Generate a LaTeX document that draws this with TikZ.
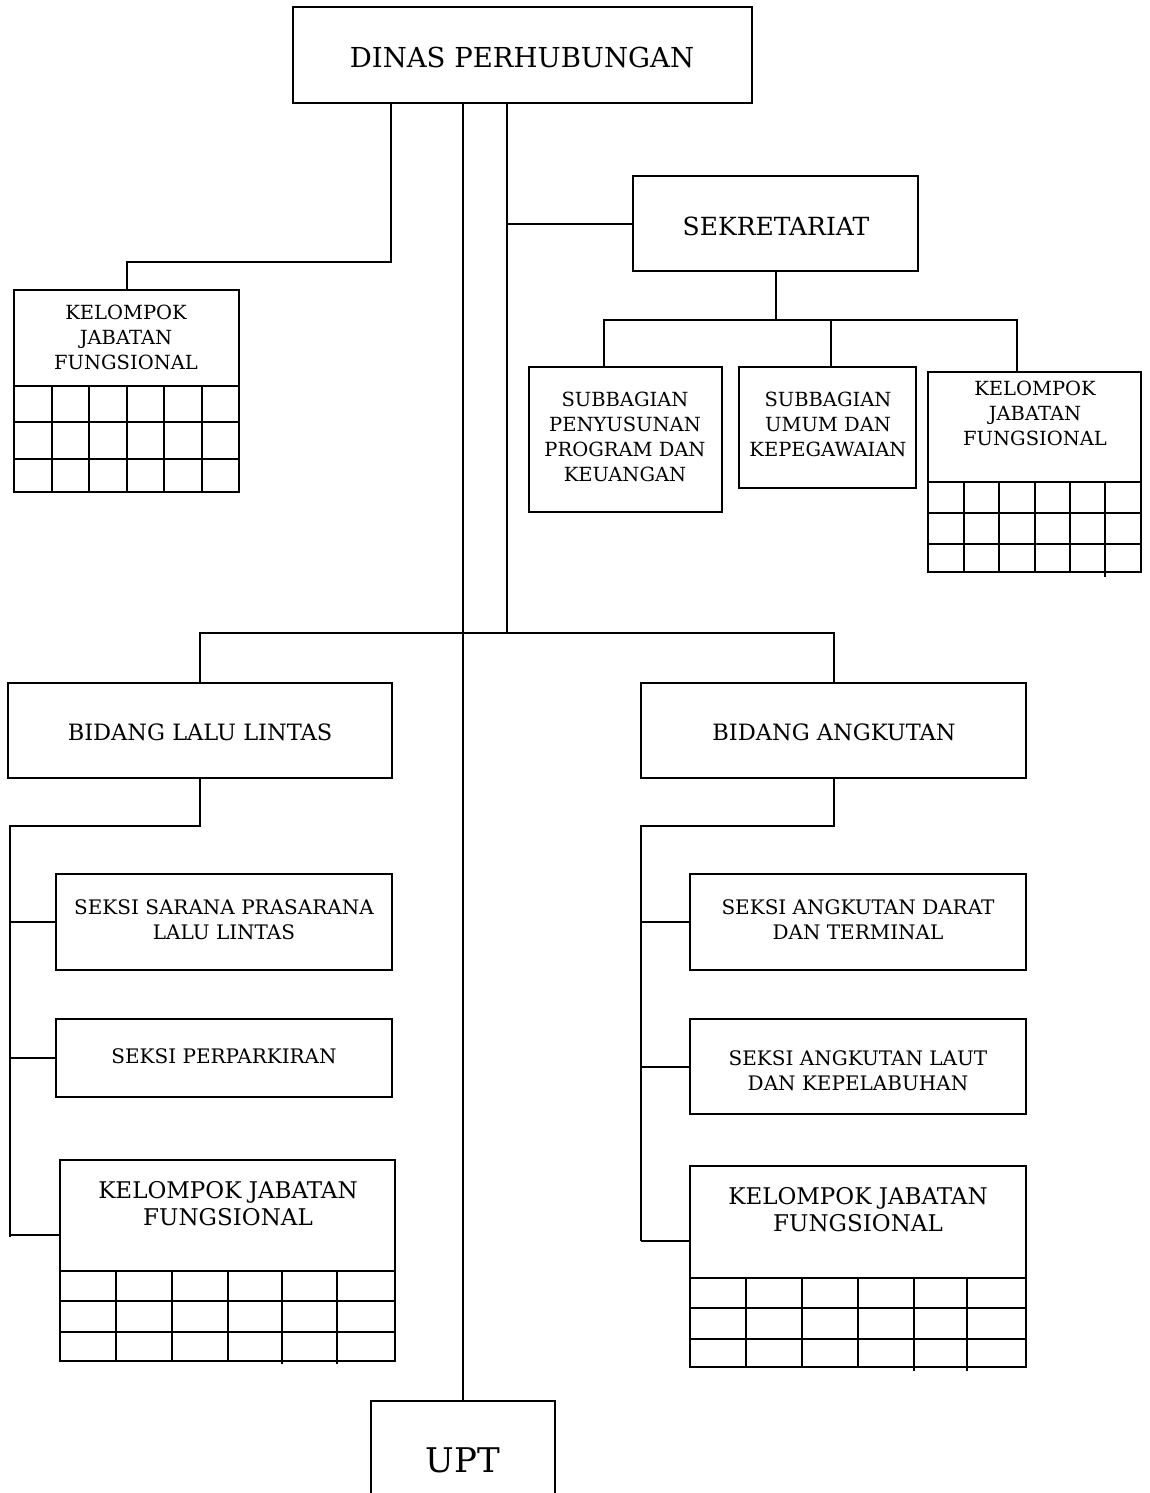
\documentclass[tikz,border=0pt]{standalone}
\usepackage{fontspec}
\setmainfont{DejaVu Serif}
\usetikzlibrary{fit}
\begin{document}
\begin{tikzpicture}[x=1pt,y=-1pt,
  box/.style={draw, line width=2pt, inner sep=0pt},
  conn/.style={line width=2pt},
  txt/.style={inner sep=0pt, align=center},
  tiny/.style={txt, font=\fontsize{19.5}{25}\selectfont},
  seksi/.style={txt, font=\fontsize{20}{25}\selectfont},
  bidang/.style={txt, font=\fontsize{22.5}{27}\selectfont},
  kjfbig/.style={txt, font=\fontsize{23}{27}\selectfont},
]
\useasboundingbox (0,0) rectangle (1149,1493);
\clip (0,0) rectangle (1149,1493);
\fill[white] (0,0) rectangle (1149,1493);

% ---- boxes ----
\node[box, fit={(293,7) (752,103)}] (dinas) {};
\node[box, fit={(633,176) (918,271)}] (sek) {};
\node[box, fit={(14,290) (239,492)}] (kjfA) {};
\node[box, fit={(529,367) (722,512)}] (sub1) {};
\node[box, fit={(739,367) (916,488)}] (sub2) {};
\node[box, fit={(928,372) (1141,572)}] (kjfB) {};
\node[box, fit={(8,683) (392,778)}] (bll) {};
\node[box, fit={(641,683) (1026,778)}] (ba) {};
\node[box, fit={(56,874) (392,970)}] (s1) {};
\node[box, fit={(56,1019) (392,1097)}] (s2) {};
\node[box, fit={(60,1160) (395,1361)}] (kjfC) {};
\node[box, fit={(690,874) (1026,970)}] (s3) {};
\node[box, fit={(690,1019) (1026,1114)}] (s4) {};
\node[box, fit={(690,1166) (1026,1367)}] (kjfD) {};
\node[box, fit={(371,1401) (555,1520)}] (upt) {};

% ---- grids of the functional groups ----
\foreach \y in {386,422,459} \draw[conn] (14,\y) -- (239,\y);
\foreach \x in {52,89,127,164,202} \draw[conn] (\x,386) -- (\x,492);
\foreach \y in {482,513,544} \draw[conn] (928,\y) -- (1141,\y);
\foreach \x/\e in {964/572,999/572,1035/572,1070/572,1105/577} \draw[conn] (\x,482) -- (\x,\e);
\foreach \y in {1271,1301,1332} \draw[conn] (60,\y) -- (395,\y);
\foreach \x/\e in {116/1361,172/1361,228/1361,282/1364,337/1364} \draw[conn] (\x,1271) -- (\x,\e);
\foreach \y in {1278,1308,1339} \draw[conn] (690,\y) -- (1026,\y);
\foreach \x/\e in {746/1367,802/1367,858/1367,914/1371,967/1371} \draw[conn] (\x,1278) -- (\x,\e);

% ---- texts ----
\node[txt, font=\fontsize{27.5}{32}\selectfont] (tDinas) at (522,57) {DINAS PERHUBUNGAN};
\node[txt, font=\fontsize{25}{30}\selectfont] (tSek) at (776,226) {SEKRETARIAT};
\node[tiny] (tKjfA) at (126,337) {KELOMPOK\\JABATAN\\FUNGSIONAL};
\node[tiny] (tSub1) at (625,436.5) {SUBBAGIAN\\PENYUSUNAN\\PROGRAM DAN\\KEUANGAN};
\node[tiny] (tSub2) at (828,424) {SUBBAGIAN\\UMUM DAN\\KEPEGAWAIAN};
\node[tiny] (tKjfB) at (1035,413) {KELOMPOK\\JABATAN\\FUNGSIONAL};
\node[bidang] (tBll) at (200,732) {BIDANG LALU LINTAS};
\node[bidang] (tBa) at (834,732) {BIDANG ANGKUTAN};
\node[seksi] (tS1) at (224,919.5) {SEKSI SARANA PRASARANA\\LALU LINTAS};
\node[seksi] (tS2) at (224,1056) {SEKSI PERPARKIRAN};
\node[kjfbig] (tKjfC) at (228,1204) {KELOMPOK JABATAN\\FUNGSIONAL};
\node[seksi] (tS3) at (858,919.5) {SEKSI ANGKUTAN DARAT\\DAN TERMINAL};
\node[seksi] (tS4) at (858,1070.5) {SEKSI ANGKUTAN LAUT\\DAN KEPELABUHAN};
\node[kjfbig] (tKjfD) at (858,1210) {KELOMPOK JABATAN\\FUNGSIONAL};
\node[txt, font=\fontsize{34}{40}\selectfont] (tUpt) at (463,1460) {UPT};

% ---- junction points ----
\coordinate (jA) at (391,262);
\coordinate (jS) at (507,633);
\coordinate (sb) at (777,320);
\coordinate (c1) at (604,320);
\coordinate (c2) at (831,320);
\coordinate (c3) at (1017,320);
\coordinate (lb) at (10,826);
\coordinate (lend) at (10,1237);
\coordinate (lk) at (10,1235);
\coordinate (rb) at (641,826);
\coordinate (rend) at (641,1241);

% ---- connectors ----
\draw[conn] (dinas.south -| jA) -- (jA) -| (kjfA.north);
\draw[conn] (dinas.south -| upt.north) -- (upt.north);
\draw[conn] (dinas.south -| jS) -- (jS);
\draw[conn] (sek.west -| jS) -- (sek.west);
\draw[conn] (bll.north) -- (bll.north |- jS) -- (ba.north |- jS) -- (ba.north);
\draw[conn] (sek.south) -- (sek.south |- sb);
\draw[conn] (c1 |- sub1.north) -- (c1) -- (c3) -- (c3 |- kjfB.north);
\draw[conn] (c2) -- (c2 |- sub2.north);
\draw[conn] (bll.south) -- (bll.south |- lb) -- (lb) -- (lend);
\draw[conn] (s1.west -| lb) -- (s1.west);
\draw[conn] (s2.west -| lb) -- (s2.west);
\draw[conn] (lk) -- (lk -| kjfC.west);
\draw[conn] (ba.south) -- (ba.south |- rb) -- (rb) -- (rend);
\draw[conn] (s3.west -| rb) -- (s3.west);
\draw[conn] (s4.west -| rb) -- (s4.west);
\draw[conn] (rend) -- (rend -| kjfD.west);
\end{tikzpicture}
\end{document}
